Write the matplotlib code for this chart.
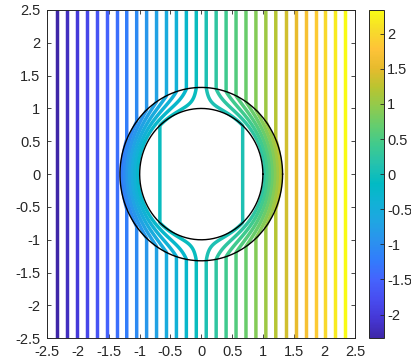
import numpy as np
import matplotlib
matplotlib.use('Agg')
import matplotlib.pyplot as plt
from matplotlib.colors import LinearSegmentedColormap, Normalize
from matplotlib.cm import ScalarMappable

# parula (MATLAB default), sampled every 4th entry
parula_rgb = [
    (0.2422, 0.1504, 0.6603), (0.2706, 0.2147, 0.8364), (0.2813, 0.3006, 0.9414),
    (0.2699, 0.3892, 0.9906), (0.1963, 0.4847, 0.9892), (0.1687, 0.5703, 0.9359),
    (0.1248, 0.6459, 0.8883), (0.0689, 0.6948, 0.8394), (0.0067, 0.7312, 0.7660),
    (0.1408, 0.7584, 0.6842), (0.2470, 0.7918, 0.5567), (0.3909, 0.8029, 0.4354),
    (0.5616, 0.7942, 0.3045), (0.7242, 0.7698, 0.1910), (0.9035, 0.7330, 0.1774),
    (0.9970, 0.7659, 0.2199), (0.9676, 0.8639, 0.1643), (0.9769, 0.9839, 0.0805),
]
parula = LinearSegmentedColormap.from_list('parula', parula_rgb)

# geometry of the cloak: core radius a, shell outer radius b
a = 1.0
b = 1.32
core_gain = 0.12          # residual field inside the core
x_lim = [-2.5, 2.5]
y_lim = [-2.5, 2.5]
ticks = [-2.5, -2, -1.5, -1, -0.5, 0, 0.5, 1, 1.5, 2, 2.5]
cbar_ticks = [-2, -1.5, -1, -0.5, 0, 0.5, 1, 1.5, 2]
n_levels = 30

# potential: uniform field outside, radially compressed in the shell
x = np.linspace(x_lim[0], x_lim[1], 1001)
y = np.linspace(y_lim[0], y_lim[1], 1001)
X, Y = np.meshgrid(x, y)
R = np.hypot(X, Y)
cos_t = np.divide(X, R, out=np.zeros_like(X), where=R > 0)
g = core_gain * a + (b - core_gain * a) * (R - a) / (b - a)
phi = np.where(R >= b, X, np.where(R <= a, core_gain * X, g * cos_t))

levels = np.linspace(x_lim[0], x_lim[1], n_levels + 2)[1:-1]

plt.rcParams['font.family'] = ['Liberation Sans', 'DejaVu Sans']
fig = plt.figure(figsize=(4.11, 3.62), dpi=100)
ax = fig.add_axes([0.115, 0.0655, 0.7494, 0.907])
norm = Normalize(vmin=levels[0], vmax=levels[-1])
ax.contour(X, Y, phi, levels=levels, cmap=parula, norm=norm, linewidths=2.5)

th = np.linspace(0, 2 * np.pi, 400)
for rad in (a, b):
    ax.plot(rad * np.cos(th), rad * np.sin(th), color='black', lw=1.0)

ax.set_xlim(x_lim)
ax.set_ylim(y_lim)
ax.set_xticks(ticks)
ax.set_yticks(ticks)
ax.set_xticklabels([f'{t:g}' for t in ticks])
ax.set_yticklabels([f'{t:g}' for t in ticks])
ax.tick_params(direction='in', top=True, right=True, labelsize=10.5,
               length=3, width=0.6, colors='#262626')
ax.tick_params(axis='x', pad=5)
ax.tick_params(axis='y', pad=5)
for s in ax.spines.values():
    s.set_color('#262626')
    s.set_linewidth(0.7)

cax = fig.add_axes([0.8985, 0.0655, 0.0365, 0.907])
cb = fig.colorbar(ScalarMappable(norm=norm, cmap=parula), cax=cax, ticks=cbar_ticks)
cb.ax.set_yticklabels([f'{t:g}' for t in cbar_ticks])
cb.ax.tick_params(direction='in', labelsize=10.5, length=3, width=0.6,
                  colors='#262626', pad=2)
cb.outline.set_edgecolor('#262626')
cb.outline.set_linewidth(0.7)

fig.savefig('out.png', dpi=100)
